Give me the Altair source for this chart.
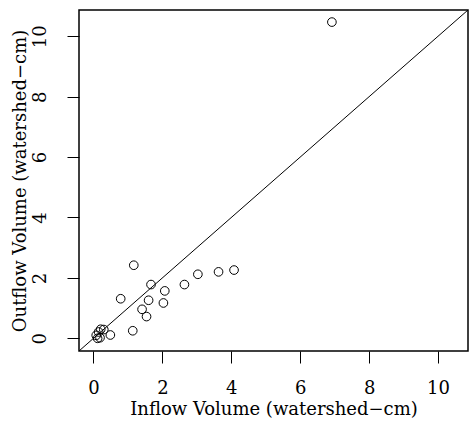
import altair as alt
import pandas as pd

inflow = [6.92, 1.17, 3.03, 3.63, 4.08, 1.67, 2.64, 2.07, 0.79, 1.60, 2.03,
          1.41, 1.54, 1.14, 0.49, 0.30, 0.08, 0.15, 0.21, 0.19, 0.12]
outflow = [10.47, 2.42, 2.12, 2.20, 2.26, 1.78, 1.78, 1.57, 1.31, 1.26, 1.17,
           0.96, 0.72, 0.25, 0.11, 0.29, 0.10, 0.21, 0.30, 0.02, 0.00]
ticks = [0, 2, 4, 6, 8, 10]
lo, hi = -0.42, 10.87
line_x = [-1, 12]

FONT = "DejaVu Serif"
FS = 18

df = pd.DataFrame({"inflow": inflow, "outflow": outflow})
ldf = pd.DataFrame({"x": line_x, "y": line_x})

xs = alt.Scale(domain=[lo, hi], nice=False, zero=False)
ys = alt.Scale(domain=[lo, hi], nice=False, zero=False)

xaxis = alt.Axis(values=ticks, grid=False, domain=False, tickColor="black",
                 tickSize=12, labelPadding=16, labelFontSize=FS, labelFont=FONT,
                 labelColor="black", title="Inflow Volume (watershed\u2212cm)",
                 titleFont=FONT, titleFontSize=FS, titleFontWeight="normal",
                 titleColor="black", titlePadding=3)
yaxis = alt.Axis(values=ticks, grid=False, domain=False, tickColor="black",
                 tickSize=12, labelPadding=18, labelFontSize=FS, labelFont=FONT,
                 labelColor="black", labelAngle=270, labelAlign="center",
                 labelBaseline="bottom",
                 title="Outflow Volume (watershed\u2212cm)",
                 titleFont=FONT, titleFontSize=FS, titleFontWeight="normal",
                 titleColor="black", titlePadding=2)

pts = alt.Chart(df).mark_point(shape="circle", filled=False, color="black",
                               size=75, strokeWidth=1, opacity=1).encode(
    x=alt.X("inflow:Q", scale=xs, axis=xaxis),
    y=alt.Y("outflow:Q", scale=ys, axis=yaxis),
)

line = alt.Chart(ldf).mark_line(color="black", strokeWidth=1, clip=True).encode(
    x=alt.X("x:Q", scale=xs),
    y=alt.Y("y:Q", scale=ys),
)

chart = (line + pts).properties(
    width=389, height=341,
    autosize=alt.AutoSizeParams(type="none"),
    padding={"left": 79, "top": 10, "right": 1, "bottom": 75},
    background="white",
).configure_view(stroke="black", strokeWidth=1.5)

chart.save("out.html", embed_options={"renderer": "svg", "actions": False})
